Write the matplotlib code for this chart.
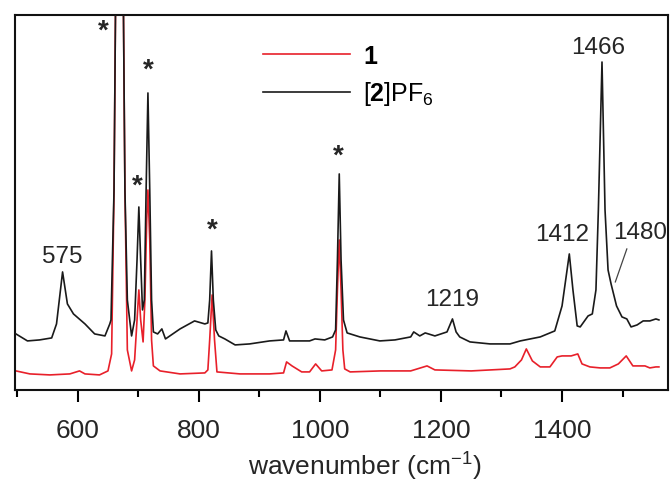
import matplotlib
matplotlib.use("Agg")
import matplotlib.pyplot as plt

plt.rcParams["font.family"] = ["Liberation Sans", "DejaVu Sans"]
plt.rcParams["mathtext.fontset"] = "custom"
plt.rcParams["mathtext.rm"] = "Liberation Sans"
plt.rcParams["mathtext.bf"] = "Liberation Sans:bold"
plt.rcParams["mathtext.default"] = "regular"

RED = "#e8202a"
BLACK = "#1a1a1a"
TXT = "#262626"

# ── spectra (wavenumber, intensity a.u.) ─────────────────────────────────────
wn_2 = [498, 517, 537, 557, 565, 575, 583, 593, 612, 628, 645, 653, 655, 660,
        663, 669, 675, 678, 682, 689, 694, 698, 701, 704, 707, 710, 713, 716,
        719, 722, 725, 732, 739, 745, 769, 793, 810, 815, 818, 821, 824, 828,
        833, 843, 860, 884, 917, 940, 944, 950, 983, 992, 1008, 1021, 1026,
        1029, 1032, 1035, 1039, 1045, 1066, 1099, 1124, 1150, 1155, 1165,
        1174, 1190, 1210, 1219, 1225, 1231, 1248, 1281, 1314, 1331, 1364,
        1388, 1400, 1406, 1412, 1418, 1425, 1430, 1443, 1450, 1456, 1460,
        1466, 1471, 1476, 1481, 1490, 1499, 1507, 1514, 1524, 1534, 1545,
        1555, 1560]
int_2 = [56, 49, 50, 52, 66, 118, 86, 76, 66, 56, 54, 66, 70, 200,
         420, 700, 420, 200, 90, 54, 70, 130, 183, 130, 80, 90, 200, 297,
         200, 90, 58, 56, 61, 51, 61, 69, 66, 67, 90, 139, 90, 60,
         54, 51, 45, 46, 49, 50, 59, 49, 49, 51, 50, 53, 60,
         130, 216, 130, 70, 57, 53, 49, 50, 53, 58, 54,
         57, 54, 58, 71, 58, 53, 48, 46, 46, 49, 53,
         59, 84, 110, 136, 100, 64, 63, 74, 76, 100, 180,
         328, 180, 120, 106, 84, 73, 71, 63, 65, 69, 69,
         71, 70]

wn_1 = [498, 521, 554, 587, 603, 612, 636, 650, 656, 660, 663, 669, 675, 678,
        682, 689, 694, 698, 701, 704, 708, 711, 714, 716, 719, 722, 725, 736,
        769, 810, 815, 818, 822, 826, 830, 868, 917, 940, 945, 954, 962, 970,
        983, 993, 1003, 1020, 1026, 1029, 1032, 1035, 1038, 1041, 1050, 1100,
        1150, 1177, 1190, 1250, 1314, 1322, 1333, 1341, 1351, 1364, 1380,
        1392, 1400, 1415, 1426, 1433, 1446, 1463, 1479, 1493, 1506, 1517,
        1529, 1537, 1545, 1555, 1560]
int_1 = [19, 16, 15, 16, 19, 16, 15, 19, 36, 200, 420, 700, 420, 200,
         40, 19, 30, 70, 100, 70, 48, 90, 170, 200, 150, 50, 24, 19,
         16, 17, 20, 50, 95, 50, 18, 16, 16, 17, 28, 24, 21, 18,
         18, 26, 19, 20, 40, 100, 150, 100, 40, 21, 18, 19,
         19, 24, 20, 19, 21, 23, 30, 41, 29, 23, 23,
         33, 34, 34, 36, 26, 23, 22, 22, 26, 34, 24,
         24, 24, 22, 23, 23]

star_wn = [643, 698, 717, 823, 1030]
star_int = [359, 204, 320, 160, 234]

peak_labels = ["575", "1219", "1412", "1466", "1480"]
label_wn = [575, 1218, 1400, 1460, 1529]
label_int = [134, 91, 156, 343, 158]

fig = plt.figure(figsize=(6.7, 4.85), dpi=100)
ax = fig.add_axes([0.022, 0.194, 0.975, 0.773])

ax.plot(wn_1, int_1, color=RED, lw=1.2, label=r"$\mathbf{1}$", zorder=2)
ax.plot(wn_2, int_2, color=BLACK, lw=1.2, label=r"[$\mathbf{2}$]PF$_6$", zorder=3)

for x, y in zip(star_wn, star_int):
    ax.text(x, y, "*", fontsize=20, fontweight="bold", color=TXT,
            ha="center", va="center")

for t, x, y in zip(peak_labels, label_wn, label_int):
    ax.text(x, y, t, fontsize=17.5, color=TXT, ha="center", va="center")

# pointer for the 1480 shoulder
ax.plot([1507, 1488], [141, 108], color="#444444", lw=0.9)

ax.set_xlim(496, 1575)
ax.set_ylim(0, 375)
ax.set_yticks([])
ax.set_xticks([600, 800, 1000, 1200, 1400])
ax.set_xticks([500, 700, 900, 1100, 1300, 1500], minor=True)
ax.tick_params(axis="x", which="major", direction="out", length=8.5, width=1.5,
               labelsize=19, labelcolor=TXT, pad=12)
ax.tick_params(axis="x", which="minor", direction="out", length=5, width=1.5)
for s in ax.spines.values():
    s.set_linewidth(1.5)
    s.set_color("#111111")

ax.set_xlabel("wavenumber (cm$^{-1}$)", fontsize=19, color=TXT)
ax.xaxis.set_label_coords(0.536, -0.16)

ax.legend(loc="upper left", bbox_to_anchor=(0.38, 0.922), frameon=False,
          fontsize=18, handlelength=3.5, handletextpad=0.5, labelspacing=0.45,
          borderpad=0, borderaxespad=0)

fig.savefig("out.png", dpi=100)
